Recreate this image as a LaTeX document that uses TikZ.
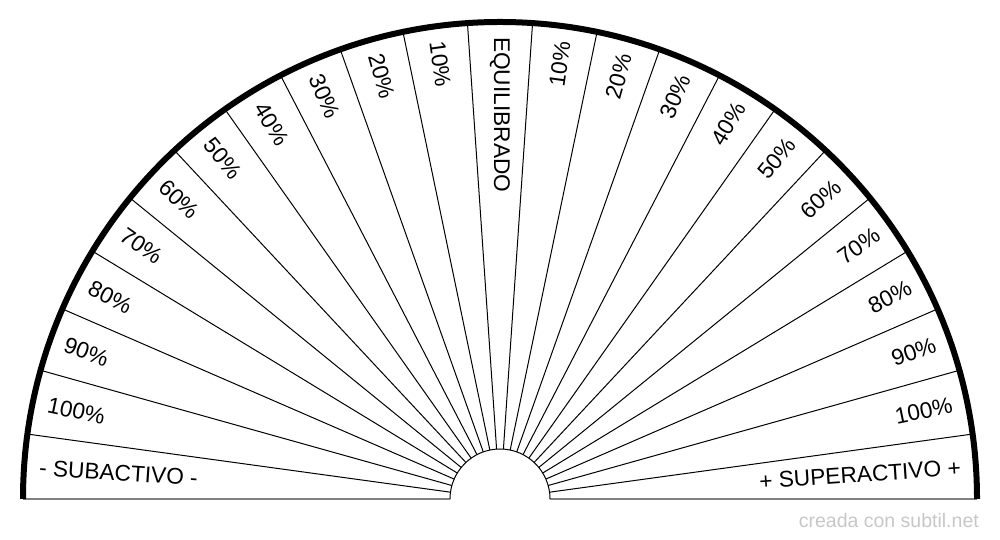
\documentclass[tikz,border=0pt]{standalone}
\usepackage{fontspec}
\setmainfont{Liberation Sans}
\begin{document}
\begin{tikzpicture}[x=1pt,y=1pt,
  lab/.style={font=\fontsize{22.7}{27}\selectfont, inner sep=0pt},
  ray/.style={line width=1pt, draw=black},
  rim/.style={line width=6pt, draw=black},
  baseline/.style={line width=1.6pt, draw=black!50},
  watermark/.style={font=\fontsize{19.5}{23}\selectfont, text=black!22, inner sep=0pt}]
\useasboundingbox (0,0) rectangle (1000,540);
\coordinate (O) at (500,41);
% radial separators
\foreach \k in {1,...,22} {
  \pgfmathsetmacro{\a}{\k*180/23}
  \draw[ray] (O) ++(\a:50) -- ++(\a:427);
}
% base lines
\draw[baseline] (O) ++(-477,0) -- ++(427,0);
\draw[baseline] (O) ++(50,0) -- ++(427,0);
% inner and outer arcs
\draw[ray] (O) ++(50,0) arc[start angle=0, end angle=180, radius=50];
\draw[rim] (O) ++(477,0) arc[start angle=0, end angle=180, radius=477];
% left labels (and centre)
\foreach \t [count=\i from 0] in {- SUBACTIVO -,100\%,90\%,80\%,70\%,60\%,50\%,40\%,30\%,20\%,10\%,EQUILIBRADO} {
  \pgfmathsetmacro{\a}{180-(\i+0.5)*180/23}
  \pgfmathsetmacro{\r}{\a-180}
  \node[lab, anchor=west, rotate=\r] (L\i) at ([shift={(\a:462)}]O) {\t};
}
% right labels
\foreach \t [count=\i from 0] in {+ SUPERACTIVO +,100\%,90\%,80\%,70\%,60\%,50\%,40\%,30\%,20\%,10\%} {
  \pgfmathsetmacro{\a}{(\i+0.5)*180/23}
  \node[lab, anchor=east, rotate=\a] (R\i) at ([shift={(\a:462)}]O) {\t};
}
\node[watermark, anchor=base east] (wm) at (979,12) {creada con subtil.net};
\end{tikzpicture}
\end{document}
